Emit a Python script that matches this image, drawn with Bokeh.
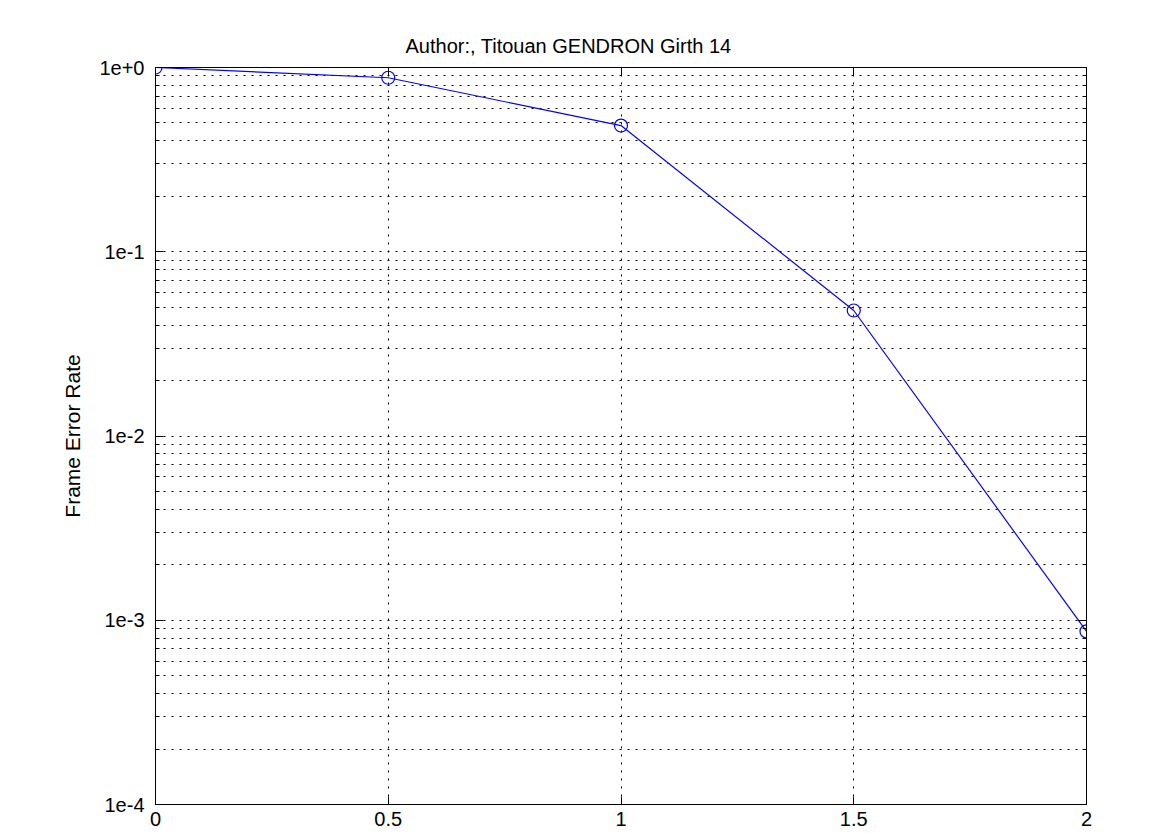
from bokeh.plotting import figure
from bokeh.models import (Range1d, FixedTicker, LogAxis, LinearAxis, Title,
                          CustomJSTickFormatter)
from bokeh.embed import file_html
from bokeh.resources import INLINE

# data
snr = [0.0, 0.5, 1.0, 1.5, 2.0]
fer = [1.0, 0.88, 0.484, 0.048, 8.7e-4]
x_ticks = [0, 0.5, 1, 1.5, 2]
x_labels = ["0", "0.5", "1", "1.5", "2"]
y_ticks = [1e-4, 1e-3, 1e-2, 1e-1, 1e0]
y_minor = [k * d for d in [1e-4, 1e-3, 1e-2, 1e-1] for k in range(2, 10)]
title_text = "Author:, Titouan GENDRON Girth 14"
y_label = "Frame Error Rate"

FONT = "Liberation Sans"
FS = "20px"

p = figure(width=1167, height=835, y_axis_type="log",
           x_range=Range1d(0, 2), y_range=Range1d(1e-4, 1),
           output_backend="svg", toolbar_location=None, title=None,
           min_border_left=155, min_border_right=81,
           min_border_top=67, min_border_bottom=31)
p.background_fill_color = "white"
p.border_fill_color = "white"
p.outline_line_color = "black"
p.outline_line_width = 1

xt = FixedTicker(ticks=x_ticks)
yt = FixedTicker(ticks=y_ticks, minor_ticks=y_minor)
yfmt = CustomJSTickFormatter(code="""
const e = Math.round(Math.log10(tick));
return "1e" + (e >= 0 ? "+" : "") + e;
""")
blank = CustomJSTickFormatter(code="return '';")

# bottom axis
xa = p.xaxis[0]
xa.ticker = xt
xa.major_label_overrides = {t: l for t, l in zip(x_ticks, x_labels)}
xa.major_tick_in = 8
xa.major_tick_out = 0
xa.minor_tick_in = 0
xa.minor_tick_out = 0
xa.major_label_standoff = 7
xa.major_label_text_font = FONT
xa.major_label_text_font_size = FS
xa.major_label_text_color = "black"
xa.axis_line_color = "black"
xa.major_tick_line_color = "black"

# left axis
ya = p.yaxis[0]
ya.ticker = yt
ya.formatter = yfmt
ya.major_tick_in = 8
ya.major_tick_out = 0
ya.minor_tick_in = 4
ya.minor_tick_out = 0
ya.major_label_standoff = 11
ya.major_label_text_font = FONT
ya.major_label_text_font_size = FS
ya.major_label_text_color = "black"
ya.axis_line_color = "black"
ya.major_tick_line_color = "black"
ya.minor_tick_line_color = "black"
ya.axis_label = y_label
ya.axis_label_text_font = FONT
ya.axis_label_text_font_size = "21px"
ya.axis_label_text_font_style = "normal"
ya.axis_label_text_color = "black"
ya.axis_label_standoff = 12

# right axis (ticks only)
ra = LogAxis(ticker=yt, formatter=blank, major_tick_in=8, major_tick_out=0,
             minor_tick_in=4, minor_tick_out=0,
             axis_line_color="black", major_tick_line_color="black",
             minor_tick_line_color="black")
p.add_layout(ra, "right")

# top axis (ticks only)
ta = LinearAxis(ticker=xt, formatter=blank, major_tick_in=8, major_tick_out=0,
                minor_tick_in=0, minor_tick_out=0,
                axis_line_color="black", major_tick_line_color="black")
p.add_layout(ta, "above")

p.add_layout(Title(text=title_text, text_font=FONT, text_font_size=FS,
                   text_font_style="normal", text_color="black",
                   align="left", offset=250, standoff=21), "above")

# grids
p.xgrid.ticker = xt
p.xgrid.grid_line_color = "black"
p.xgrid.grid_line_dash = "2 6"
p.xgrid.grid_line_width = 1
p.ygrid.ticker = yt
p.ygrid.grid_line_color = "black"
p.ygrid.grid_line_dash = "2 6"
p.ygrid.minor_grid_line_color = "black"
p.ygrid.minor_grid_line_dash = "2 6"

p.line(snr, fer, line_color="blue", line_width=1.2)
p.scatter(snr, fer, marker="circle", size=13, fill_color=None,
          line_color="blue", line_width=1.2)

open("out.html", "w").write(file_html(p, INLINE))
